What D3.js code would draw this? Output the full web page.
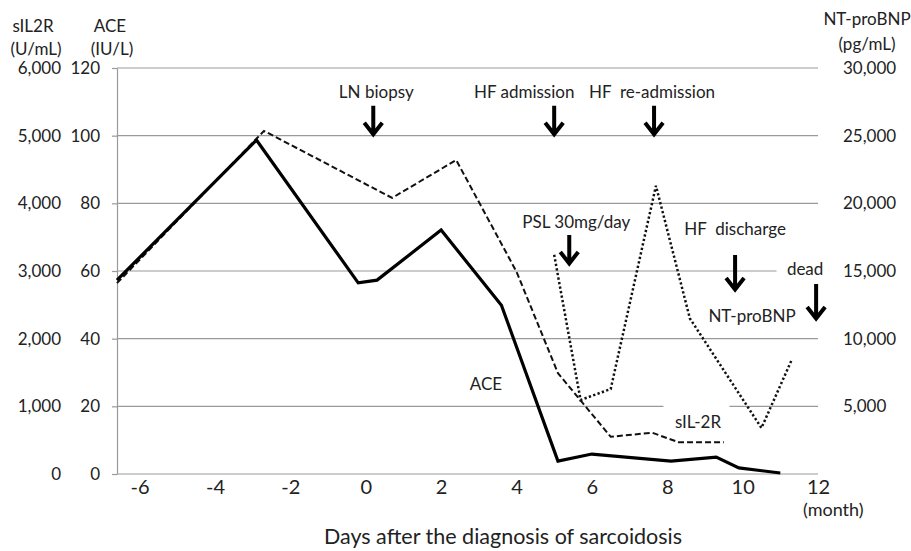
<!DOCTYPE html>
<html>
<head>
<meta charset="utf-8">
<script src="https://cdn.jsdelivr.net/npm/d3@7"></script>
<style>
    body { margin: 0; background: #fff; }
    svg { display: block; font-family: Lato, "Open Sans", sans-serif; }
    text { fill: #222; }
</style>
</head>
<body>
<div id="chart"></div>
<script>
// Months relative to diagnosis
const aceMonths = [-6.6, -2.9, -0.2, 0.3, 2.0, 3.6, 5.1, 6.0, 8.1, 9.3, 9.9, 11.0];
const aceValues = [57.3, 98.7, 56.5, 57.3, 72.1, 49.9, 3.8, 5.9, 3.8, 5.0, 1.8, 0.3];

const sil2rMonths = [-6.6, -2.7, 0.7, 2.4, 4.0, 5.1, 6.5, 7.6, 8.3, 9.5];
const sil2rValues = [2820, 5070, 4080, 4640, 2990, 1490, 550, 610, 470, 470];

const bnpMonths = [5.0, 5.7, 6.5, 7.7, 8.6, 10.5, 11.3];
const bnpValues = [16200, 5470, 6280, 21300, 11500, 3400, 8420];

const monthTicks = [-6, -4, -2, 0, 2, 4, 6, 8, 10, 12];
const aceTicks = [0, 20, 40, 60, 80, 100, 120];
const sil2rTicks = [0, 1000, 2000, 3000, 4000, 5000, 6000];
const bnpTicks = [5000, 10000, 15000, 20000, 25000, 30000];

// Clinical events (month, ACE-scale level of the arrow tip)
const eventLabels = ['LN biopsy', 'HF admission', 'HF  re-admission', 'PSL 30mg/day', 'HF  discharge', 'dead'];
const eventMonths = [0.2, 5.0, 7.65, 5.4, 9.8, 11.95];
const eventTips = [100, 100, 100, 61.8, 54.1, 45.5];

// Gridline gaps (ACE level, month from, month to)
const gridGaps = [
    { level: 60, from: 10.9, to: 12 },
    { level: 20, from: 7.9, to: 9.65 }
];

const width = 911;
const height = 551;

const svg = d3.select('#chart')
    .append('svg')
    .attr('width', width)
    .attr('height', height);

// Scales
const x = d3.scaleLinear().domain([-6.6, 12]).range([117, 818]);
const yAce = d3.scaleLinear().domain([0, 120]).range([474, 68]);
const ySil = d3.scaleLinear().domain([0, 6000]).range([474, 68]);
const yBnp = d3.scaleLinear().domain([0, 30000]).range([474, 68]);

const gridColor = '#9a9a9a';
const fmt = d3.format(',');

// Gridlines, split where the picture leaves gaps
const grid = svg.append('g');
aceTicks.forEach(level => {
    const gap = gridGaps.find(g => g.level === level);
    const pieces = gap
        ? [[-6.6, gap.from], [gap.to, 12]].filter(p => p[1] > p[0] + 0.01)
        : [[-6.6, 12]];
    pieces.forEach(p => {
        grid.append('line')
            .attr('x1', x(p[0]))
            .attr('x2', x(p[1]))
            .attr('y1', yAce(level))
            .attr('y2', yAce(level))
            .style('stroke', gridColor)
            .style('stroke-width', 1.2);
    });
});

// Left axes
const aceAxis = svg.append('g')
    .attr('transform', `translate(${x(-6.6)},0)`)
    .call(d3.axisLeft(yAce).tickValues(aceTicks).tickSize(5).tickSizeOuter(0).tickPadding(12));
aceAxis.select('.domain').style('stroke', gridColor).style('stroke-width', 1.2);
aceAxis.selectAll('.tick line').style('stroke', gridColor).style('stroke-width', 1.2);
aceAxis.selectAll('text').style('font-size', '17px').style('font-family', 'Lato').attr('fill', '#222');

const silAxis = svg.append('g')
    .attr('transform', `translate(${x(-6.6)},0)`)
    .call(d3.axisLeft(ySil).tickValues(sil2rTicks).tickSize(0).tickPadding(56).tickFormat(fmt));
silAxis.select('.domain').remove();
silAxis.selectAll('text').style('font-size', '17px').style('font-family', 'Lato').attr('fill', '#222');

// Right axis
const bnpAxis = svg.append('g')
    .attr('transform', `translate(${x(12)},0)`)
    .call(d3.axisRight(yBnp).tickValues(bnpTicks).tickSize(0).tickPadding(25).tickFormat(fmt));
bnpAxis.select('.domain').remove();
bnpAxis.selectAll('text').style('font-size', '17px').style('font-family', 'Lato').attr('fill', '#222');

// Bottom axis (plain hyphen for negatives, as in the original)
const xAxis = svg.append('g')
    .attr('transform', `translate(0,${yAce(0)})`)
    .call(d3.axisBottom(x).tickValues(monthTicks).tickSize(0).tickPadding(6).tickFormat(d => String(d)));
xAxis.select('.domain').remove();
xAxis.selectAll('text').style('font-size', '20px').style('font-family', 'Lato').attr('fill', '#222');

// Axis headers
const header = (txt, cx, cy, anchor) => svg.append('text')
    .attr('x', cx).attr('y', cy)
    .attr('text-anchor', anchor || 'middle')
    .attr('dominant-baseline', 'central')
    .style('font-size', '17px')
    .text(txt);

header('sIL2R', 33, 25);
header('(U/mL)', 36, 48);
header('ACE', 110, 25);
header('(IU/L)', 112, 48);
header('NT-proBNP', 867, 18);
header('(pg/mL)', 867, 43);
header('(month)', x(12) - 15, 509, 'start').style('font-size', '18px');

svg.append('text')
    .attr('x', 503)
    .attr('y', 536)
    .attr('text-anchor', 'middle')
    .attr('dominant-baseline', 'central')
    .style('font-size', '21.5px')
    .text('Days after the diagnosis of sarcoidosis');

// Series
const aceLine = d3.line().x(d => x(d[0])).y(d => yAce(d[1]));
const silLine = d3.line().x(d => x(d[0])).y(d => ySil(d[1]));
const bnpLine = d3.line().x(d => x(d[0])).y(d => yBnp(d[1]));

svg.append('path')
    .datum(d3.zip(sil2rMonths, sil2rValues))
    .attr('d', silLine)
    .style('fill', 'none')
    .style('stroke', '#111')
    .style('stroke-width', 2)
    .style('stroke-dasharray', '6,3');

svg.append('path')
    .datum(d3.zip(bnpMonths, bnpValues))
    .attr('d', bnpLine)
    .style('fill', 'none')
    .style('stroke', '#111')
    .style('stroke-width', 2.5)
    .style('stroke-dasharray', '2.3,2.3');

svg.append('path')
    .datum(d3.zip(aceMonths, aceValues))
    .attr('d', aceLine)
    .style('fill', 'none')
    .style('stroke', '#000')
    .style('stroke-width', 3.2)
    .style('stroke-linejoin', 'miter');

// Series labels
const seriesLabel = (txt, cx, cy) => svg.append('text')
    .attr('x', cx).attr('y', cy)
    .attr('text-anchor', 'middle')
    .attr('dominant-baseline', 'central')
    .style('font-size', '17px')
    .text(txt);

seriesLabel('ACE', 486, 383);
seriesLabel('sIL-2R', 698, 421);
seriesLabel('NT-proBNP', 752, 315);

// Event arrows and labels (label offset relative to arrow tip)
const arrowLen = 30;
const labelOffsets = [
    { dx: 3, dy: -44 },
    { dx: -30, dy: -44 },
    { dx: -2, dy: -44 },
    { dx: 7, dy: -43 },
    { dx: 0, dy: -62 },
    { dx: -11, dy: -52 }
];

eventLabels.forEach((label, i) => {
    const ax = x(eventMonths[i]);
    const tip = yAce(eventTips[i]);
    const len = i >= 4 ? 36 : arrowLen;
    svg.append('path')
        .attr('d', `M${ax},${tip - len}V${tip - 1.5}M${ax - 9},${tip - 13}L${ax},${tip - 1.5}L${ax + 9},${tip - 13}`)
        .style('fill', 'none')
        .style('stroke', '#000')
        .style('stroke-width', 4)
        .style('stroke-linecap', 'butt')
        .style('stroke-linejoin', 'miter');

    svg.append('text')
        .attr('x', ax + labelOffsets[i].dx)
        .attr('y', tip + labelOffsets[i].dy)
        .attr('text-anchor', 'middle')
        .attr('dominant-baseline', 'central')
        .style('font-size', '17px')
        .style('white-space', 'pre')
        .attr('xml:space', 'preserve')
        .text(label);
});
</script>
</body>
</html>
